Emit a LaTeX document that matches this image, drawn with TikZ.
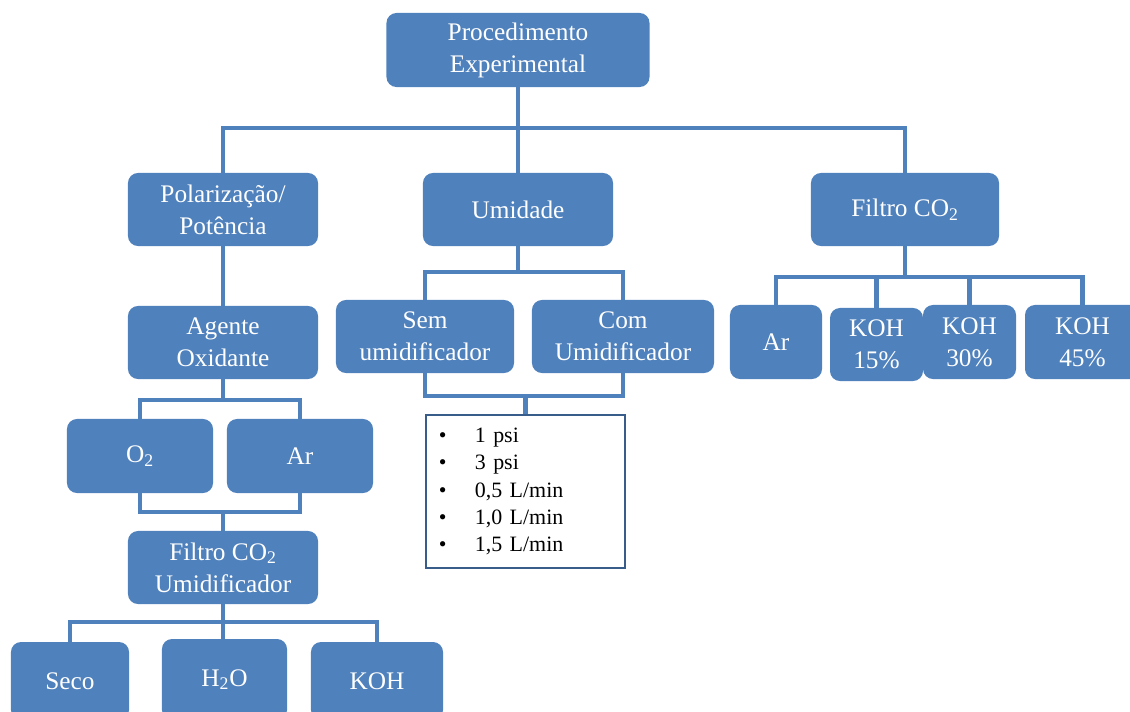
\documentclass[tikz,border=0pt]{standalone}
\usepackage{fontspec}
\setmainfont{Liberation Serif}
\usetikzlibrary{backgrounds}
\definecolor{boxblue}{HTML}{4F81BD}
\definecolor{edgeblue}{HTML}{385D8A}
\begin{document}
\begin{tikzpicture}[x=0.025cm,y=-0.025cm,
  box/.style={rectangle, rounded corners=0.25cm, fill=boxblue, text=white, align=center,
    font=\fontsize{18}{22.7}\selectfont, inner sep=0pt},
  listbox/.style={rectangle, draw=edgeblue, line width=2pt, fill=white, align=left,
    font=\fontsize{15.6}{19.5}\selectfont, inner xsep=0.325cm, inner ysep=0pt,
    text width=4.325cm, minimum height=3.825cm},
  conn/.style={draw=boxblue, line width=3pt}]
\useasboundingbox (0,0) rectangle (1130,711);

% top level
\node[box, minimum width=6.575cm, minimum height=1.85cm] (proc) at (518,50) {Procedimento\\Experimental};
\node[box, minimum width=4.75cm, minimum height=1.825cm] (polar) at (223,209.5) {Polarização/\\Potência};
\node[box, minimum width=4.75cm, minimum height=1.825cm] (umid) at (518,209.5) {Umidade};
\node[box, minimum width=4.7cm, minimum height=1.825cm] (filt) at (905,209.5) {Filtro CO\textsubscript{2}};

% left branch
\node[box, minimum width=4.75cm, minimum height=1.825cm] (agente) at (223,342.5) {Agente\\Oxidante};
\node[box, minimum width=3.65cm, minimum height=1.85cm] (o2) at (140,456) {O\textsubscript{2}};
\node[box, minimum width=3.65cm, minimum height=1.85cm] (ar1) at (300,456) {Ar};
\node[box, minimum width=4.75cm, minimum height=1.825cm] (filtu) at (223,567.5) {Filtro CO\textsubscript{2}\\Umidificador};
\node[box, minimum width=2.95cm, minimum height=1.95cm] (seco) at (70,681) {Seco};
\node[box, minimum width=3.125cm, minimum height=2.025cm] (h2o) at (224.5,679.5) {H\textsubscript{2}O};
\node[box, minimum width=3.3cm, minimum height=1.95cm] (koh) at (377,681) {KOH};

% middle branch
\node[box, minimum width=4.45cm, minimum height=1.825cm] (sem) at (425,336.5) {Sem\\umidificador};
\node[box, minimum width=4.55cm, minimum height=1.825cm] (com) at (623,336.5) {Com\\Umidificador};
\node[listbox] (bul) at (525.5,491.5) {%
\makebox[0.9cm][l]{\textbullet}1 psi\\
\makebox[0.9cm][l]{\textbullet}3 psi\\
\makebox[0.9cm][l]{\textbullet}0,5 L/min\\
\makebox[0.9cm][l]{\textbullet}1,0 L/min\\
\makebox[0.9cm][l]{\textbullet}1,5 L/min};

% right branch
\node[box, minimum width=2.3cm, minimum height=1.85cm] (ar2) at (776,342) {Ar};
\node[box, minimum width=2.325cm, minimum height=1.825cm] (k15) at (876.5,344.5) {KOH\\15\%};
\node[box, minimum width=2.325cm, minimum height=1.85cm] (k30) at (969.5,342) {KOH\\30\%};
\node[box, minimum width=2.875cm, minimum height=1.85cm] (k45) at (1082.5,342) {KOH\\45\%};

% connector junctions
\coordinate (b1) at (518,128);
\coordinate (b2) at (223,400);
\coordinate (b3) at (223,512);
\coordinate (b4) at (223,622);
\coordinate (b5) at (518,272);
\coordinate (b6) at (525.5,396);
\coordinate (b7) at (905,277);

\begin{scope}[on background layer]
\draw[conn] (proc.south) -- (b1);
\draw[conn] (polar.north) |- (b1) -| (filt.north);
\draw[conn] (b1) -- (umid.north);

\draw[conn] (polar.south) -- (agente.north);
\draw[conn] (agente.south) -- (b2);
\draw[conn] (o2.north) |- (b2) -| (ar1.north);
\draw[conn] (o2.south) |- (b3) -| (ar1.south);
\draw[conn] (b3) -- (filtu.north);
\draw[conn] (filtu.south) -- (b4);
\draw[conn] (seco.north) |- (b4) -| (koh.north);
\draw[conn] (b4) -- (b4 |- h2o.north);

\draw[conn] (umid.south) -- (b5);
\draw[conn] (sem.north) |- (b5) -| (com.north);
\draw[conn] (sem.south) |- (b6) -| (com.south);
\draw[conn] (b6) -- (bul.north);

\draw[conn] (filt.south) -- (b7);
\draw[conn] (ar2.north) |- (b7) -| (k45.north);
\draw[conn] (k15.north) -- (k15.north |- b7);
\draw[conn] (k30.north) -- (k30.north |- b7);
\end{scope}
\end{tikzpicture}
\end{document}
